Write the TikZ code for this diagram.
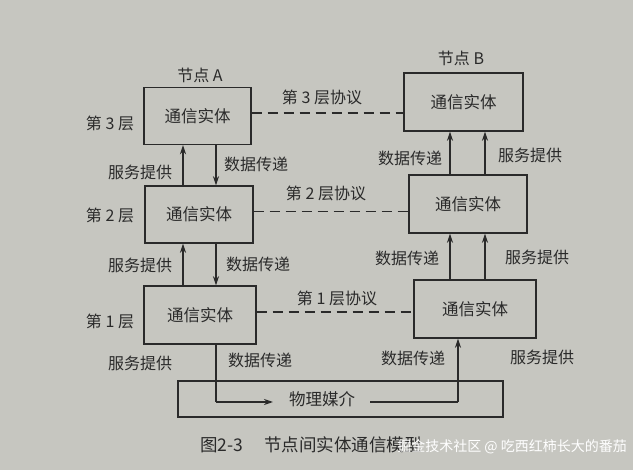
\documentclass[tikz,border=0pt]{standalone}
\usepackage{fontspec}
\setmainfont{Noto Sans CJK SC}
\usetikzlibrary{arrows.meta}
\definecolor{bg}{HTML}{C6C6C0}
\definecolor{ink}{HTML}{2A2A2A}
\tikzset{
  ent/.style={draw=ink, line width=1.4pt, fill=bg, text=ink, font=\fontsize{16.5}{19}\selectfont},
  lab/.style={text=ink, font=\fontsize{16}{19}\selectfont, inner sep=0pt},
  arr/.style={draw=ink, line width=1.3pt, -{Stealth[length=9pt,width=6pt]}},
  ln/.style={draw=ink, line width=1.3pt},
  proto/.style={draw=ink, line width=1.4pt, dash pattern=on 10pt off 6pt},
}
\begin{document}
\begin{tikzpicture}[x=1pt,y=-1pt]
\fill[bg] (0,0) rectangle (633,470);
\useasboundingbox (0,0) rectangle (633,470);
% entities
\node[ent, minimum width=107pt, minimum height=57pt] (A3) at (197.5,116) {通信实体};
\node[ent, minimum width=108pt, minimum height=57pt] (A2) at (199,214.5) {通信实体};
\node[ent, minimum width=112pt, minimum height=58pt] (A1) at (200,315) {通信实体};
\node[ent, minimum width=119pt, minimum height=58pt] (B3) at (463.5,102) {通信实体};
\node[ent, minimum width=118pt, minimum height=58pt] (B2) at (468,204) {通信实体};
\node[ent, minimum width=122pt, minimum height=58pt] (B1) at (475,309) {通信实体};
\node[ent, minimum width=325pt, minimum height=36pt] (M) at (340.5,399) {};
\node[lab] (Mt) at (322,399) {\fontsize{16.5}{19}\selectfont 物理媒介};
% node titles
\node[lab] (NA) at (200,75) {节点 A};
\node[lab] (NB) at (461,58) {节点 B};
% layer labels
\node[lab] (L3) at (110,123) {第 3 层};
\node[lab] (L2) at (110,215) {第 2 层};
\node[lab] (L1) at (110,321) {第 1 层};
% vertical guide coordinates
\coordinate (la) at (183,0);
\coordinate (ld) at (216,0);
\coordinate (rd) at (450,0);
\coordinate (rs) at (485,0);
\coordinate (rm) at (458,0);
% left arrows
\draw[arr] (A2.north -| la) -- (A3.south -| la);
\draw[arr] (A3.south -| ld) -- (A2.north -| ld);
\draw[arr] (A1.north -| la) -- (A2.south -| la);
\draw[arr] (A2.south -| ld) -- (A1.north -| ld);
% right arrows
\draw[arr] (B2.north -| rd) -- (B3.south -| rd);
\draw[arr] (B2.north -| rs) -- (B3.south -| rs);
\draw[arr] (B1.north -| rd) -- (B2.south -| rd);
\draw[arr] (B1.north -| rs) -- (B2.south -| rs);
% physical path
\coordinate (p1) at (216,402);
\coordinate (p2) at (273,402);
\coordinate (p3) at (370,402);
\coordinate (p4) at (458,402);
\draw[ln] (A1.south -| ld) -- (p1);
\draw[arr] (p1) -- (p2);
\draw[ln] (p3) -- (p4);
\draw[arr] (p4) -- (B1.south -| rm);
% protocols
\draw[proto] (A3.east) ++(0,-3) coordinate (q3) -- (q3 -| B3.west);
\draw[proto] (A2.east) ++(0,-3) coordinate (q2) -- (q2 -| B2.west);
\draw[proto] (A1.east) ++(0,-3) coordinate (q1) -- (q1 -| B1.west);
\node[lab] (P3) at (322,97) {第 3 层协议};
\node[lab] (P2) at (326,193) {第 2 层协议};
\node[lab] (P1) at (337,298) {第 1 层协议};
% service / data labels
\node[lab] (s1) at (140,172) {服务提供};
\node[lab] (d1) at (256,164) {数据传递};
\node[lab] (s2) at (140,265) {服务提供};
\node[lab] (d2) at (258,264) {数据传递};
\node[lab] (s3) at (140,363) {服务提供};
\node[lab] (d3) at (260,360) {数据传递};
\node[lab] (d4) at (410,158) {数据传递};
\node[lab] (s4) at (530,155) {服务提供};
\node[lab] (d5) at (407,258) {数据传递};
\node[lab] (s5) at (537,257) {服务提供};
\node[lab] (d6) at (413,358) {数据传递};
\node[lab] (s6) at (542,357) {服务提供};
% caption
\node[lab, font=\fontsize{17.5}{20}\selectfont] (cap) at (200,445) [anchor=west] {图2-3\hspace{1.2em}节点间实体通信模型};
\node[text=white, font=\fontsize{14}{17}\selectfont, inner sep=0pt, anchor=east] (wm) at (627,447) {掘金技术社区 @ 吃西红柿长大的番茄};
\end{tikzpicture}
\end{document}
